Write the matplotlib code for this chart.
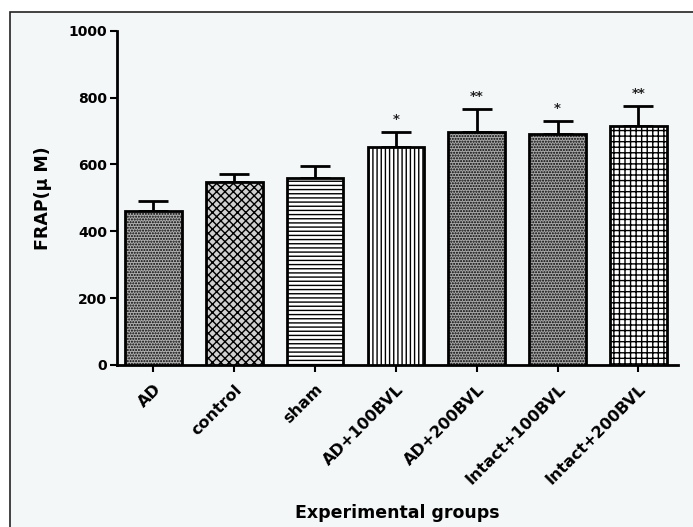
import matplotlib
matplotlib.use("Agg")
import matplotlib.pyplot as plt
from matplotlib.patches import Rectangle

plt.rcParams['font.family'] = ['DejaVu Sans']
plt.rcParams['hatch.linewidth'] = 1.0

categories = ["AD", "control", "sham", "AD+100BVL", "AD+200BVL", "Intact+100BVL", "Intact+200BVL"]
means = [462, 548, 560, 651, 698, 690, 716]
errors = [29, 22, 35, 47, 67, 40, 59]
stars = ["", "", "", "*", "**", "*", "**"]
hatches = ["......", "xxxx", "----", "||||", "......", "......", "+++"]
facecolors = ["#b0b0b0", "#d0d0d0", "white", "white", "#a8a8a8", "#a8a8a8", "white"]
yticks = [0, 200, 400, 600, 800, 1000]

bg = "#f4f7f8"
fig = plt.figure(figsize=(6.93, 5.27), dpi=100)
fig.patch.set_facecolor("white")
# panel background with frame on left/top
fig.patches.append(Rectangle((10/693, -0.1), 1.1, (527-12)/527 + 0.1,
                             transform=fig.transFigure, facecolor=bg,
                             edgecolor="#222222", linewidth=1.2, zorder=-10))

ax = fig.add_axes([117/693, (527-365)/527, (678-117)/693, (365-30.7)/527])
ax.set_facecolor(bg)
ax.patch.set_alpha(0)

x = list(range(len(categories)))
bars = ax.bar(x, means, width=0.7, color=facecolors, edgecolor="black",
              linewidth=2.0, zorder=3)
for b, h in zip(bars, hatches):
    b.set_hatch(h)
ax.errorbar(x, means, yerr=[[0]*len(errors), errors], fmt="none",
            ecolor="black", elinewidth=2.0, capsize=10.5, capthick=2.0, zorder=2)
for xi, m, e, s in zip(x, means, errors, stars):
    if s:
        ax.text(xi, m + e + 18, s, ha="center", va="bottom", fontsize=9.5,
                fontweight="bold", color="#222222")

ax.set_ylim(0, 1000)
ax.set_xlim(-0.45, 6.49)
ax.set_yticks(yticks)
ax.set_yticklabels([str(v) for v in yticks], fontsize=10, fontweight="bold")
ax.set_xticks(x)
ax.set_xticklabels(categories, rotation=45, ha="right", rotation_mode="anchor",
                   fontsize=11.5, fontweight="bold")
ax.spines["top"].set_visible(False)
ax.spines["right"].set_visible(False)
ax.spines["left"].set_linewidth(2.0)
ax.spines["bottom"].set_linewidth(2.0)
ax.tick_params(axis="both", width=1.5, length=5, pad=2)
ax.tick_params(axis="x", pad=7)
ax.set_ylabel("FRAP(µ M)", fontsize=12.5, fontweight="bold", labelpad=12)
ax.set_xlabel("Experimental groups", fontsize=12.5, fontweight="bold", labelpad=12)

fig.savefig("out.png", dpi=100, facecolor=fig.get_facecolor())
